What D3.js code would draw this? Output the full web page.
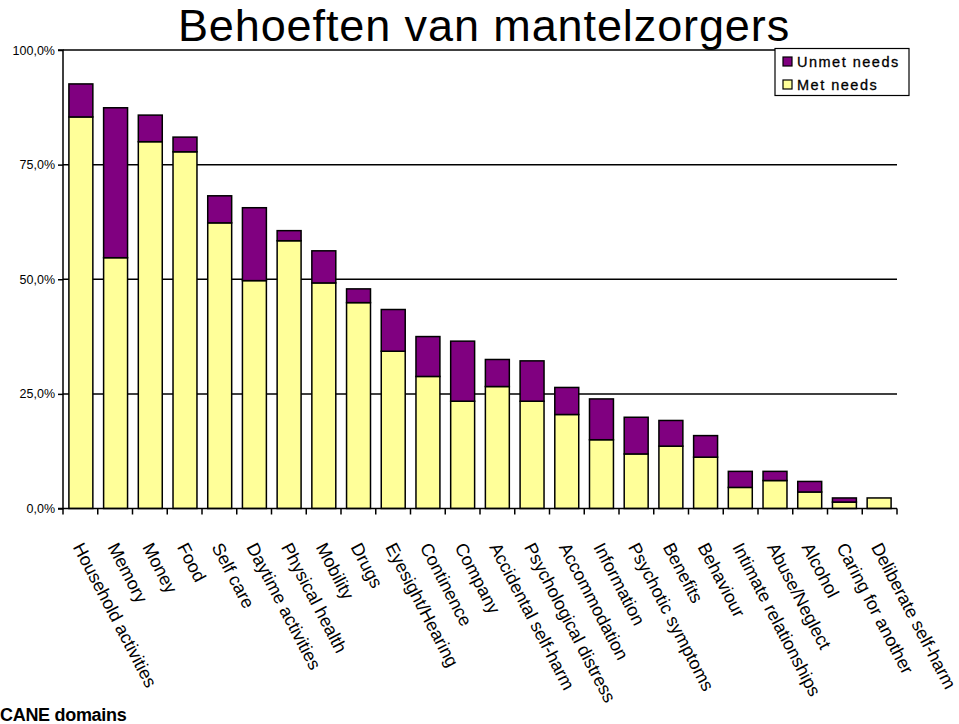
<!DOCTYPE html>
<html><head><meta charset="utf-8">
<script src="https://cdn.jsdelivr.net/npm/d3@7"></script>
<style>body{margin:0;background:#fff}svg{display:block;font-family:Arial,"Liberation Sans",sans-serif}</style>
</head><body><svg id="c" width="959" height="724"></svg>
<script>
const categories = ["Household activities","Memory","Money","Food","Self care","Daytime activities","Physical health","Mobility","Drugs","Eyesight/Hearing","Continence","Company","Accidental self-harm","Psychological distress","Accommodation","Information","Psychotic symptoms","Benefits","Behaviour","Intimate relationships","Abuse/Neglect","Alcohol","Caring for another","Deliberate self-harm"];
const metNeeds   = [85.4,54.7,80.0,77.8,62.3,49.7,58.4,49.2,44.9,34.3,28.8,23.4,26.6,23.4,20.5,15.0,11.9,13.6,11.2,4.6,6.1,3.6,1.4,2.3];
const unmetNeeds = [7.2,32.7,5.8,3.2,5.9,15.9,2.2,7.0,3.0,9.1,8.7,13.1,5.9,8.8,5.9,8.9,8.0,5.6,4.7,3.5,2.0,2.3,0.9,0.0];
const yTicks = [0,25,50,75,100];
const yTickLabels = ["0,0%","25,0%","50,0%","75,0%","100,0%"];
const seriesNames = ["Unmet needs","Met needs"];
const colors = {met:"#ffff99", unmet:"#800080"};

const svg = d3.select("#c");
const pl=63, pr=897, pt=50, pb=508.5;
const x = d3.scaleBand().domain(categories).range([pl,pr]).paddingInner(0.31).paddingOuter(0.17);
const y = d3.scaleLinear().domain([0,100]).range([pb,pt]);

// title
svg.append("text").attr("x",484).attr("y",41).attr("text-anchor","middle")
  .attr("font-size",45).attr("letter-spacing",0.9).attr("fill","#000").text("Behoeften van mantelzorgers");

// gridlines
svg.append("g").selectAll("line").data(yTicks.filter(d=>d>0)).join("line")
  .attr("x1",pl).attr("x2",pr).attr("y1",d=>y(d)).attr("y2",d=>y(d))
  .attr("stroke","#000").attr("stroke-width",1.5);

// bars
const data = categories.map((c,i)=>({c, met:metNeeds[i], unmet:unmetNeeds[i]}));
const g = svg.append("g");
g.selectAll("rect.met").data(data).join("rect").attr("class","met")
  .attr("x",d=>x(d.c)).attr("width",x.bandwidth())
  .attr("y",d=>y(d.met)).attr("height",d=>y(0)-y(d.met))
  .attr("fill",colors.met).attr("stroke","#000").attr("stroke-width",1.5);
g.selectAll("rect.unmet").data(data.filter(d=>d.unmet>0)).join("rect").attr("class","unmet")
  .attr("x",d=>x(d.c)).attr("width",x.bandwidth())
  .attr("y",d=>y(d.met+d.unmet)).attr("height",d=>y(d.met)-y(d.met+d.unmet))
  .attr("fill",colors.unmet).attr("stroke","#000").attr("stroke-width",1.5);

// y axis
const yAxis = d3.axisLeft(y).tickValues(yTicks).tickFormat((d,i)=>yTickLabels[i]).tickSize(5).tickPadding(3);
const ya = svg.append("g").attr("transform",`translate(${pl},0)`).call(yAxis);
ya.select(".domain").attr("stroke","#000").attr("stroke-width",1.5).attr("d",`M-5,${pt}H0V${pb}H-5`);
ya.selectAll(".tick line").attr("stroke","#000").attr("stroke-width",1.5);
ya.selectAll(".tick text").attr("font-size",12.5).attr("font-family","Arial, 'Liberation Sans', sans-serif").attr("fill","#000");

// x axis
const xb = d3.range(categories.length+1).map(i=>pl + i*(pr-pl)/categories.length);
const xa = svg.append("g");
xa.append("line").attr("x1",pl).attr("x2",pr).attr("y1",pb).attr("y2",pb).attr("stroke","#000").attr("stroke-width",1.5);
xa.selectAll("line.t").data(xb).join("line").attr("class","t")
  .attr("x1",d=>d).attr("x2",d=>d).attr("y1",pb).attr("y2",pb+6).attr("stroke","#000").attr("stroke-width",1.5);
xa.selectAll("text").data(categories).join("text")
  .attr("transform",d=>`translate(${x(d)+x.bandwidth()/2+3},541) rotate(62.5)`)
  .attr("dominant-baseline","hanging").attr("font-size",18).attr("fill","#000").text(d=>d);

// legend
const lg = svg.append("g");
lg.append("rect").attr("x",775).attr("y",48.5).attr("width",134).attr("height",47).attr("fill","#fff").attr("stroke","#000").attr("stroke-width",1.2);
const legendItems = [{n:seriesNames[0],c:colors.unmet},{n:seriesNames[1],c:colors.met}];
lg.selectAll("rect.k").data(legendItems).join("rect").attr("class","k")
  .attr("x",783).attr("y",(d,i)=>57+i*23).attr("width",9).attr("height",9)
  .attr("fill",d=>d.c).attr("stroke","#000").attr("stroke-width",1.2);
lg.selectAll("text").data(legendItems).join("text")
  .attr("x",797).attr("y",(d,i)=>67+i*23).attr("font-size",14.5).attr("letter-spacing",1.5)
  .attr("stroke","#000").attr("stroke-width",0.3)
  .attr("fill","#000").text(d=>d.n);

// x axis title
svg.append("text").attr("x",0).attr("y",721).attr("font-size",18).attr("font-weight","bold")
  .attr("letter-spacing",-0.3).attr("fill","#000").text("CANE domains");
</script></body></html>
